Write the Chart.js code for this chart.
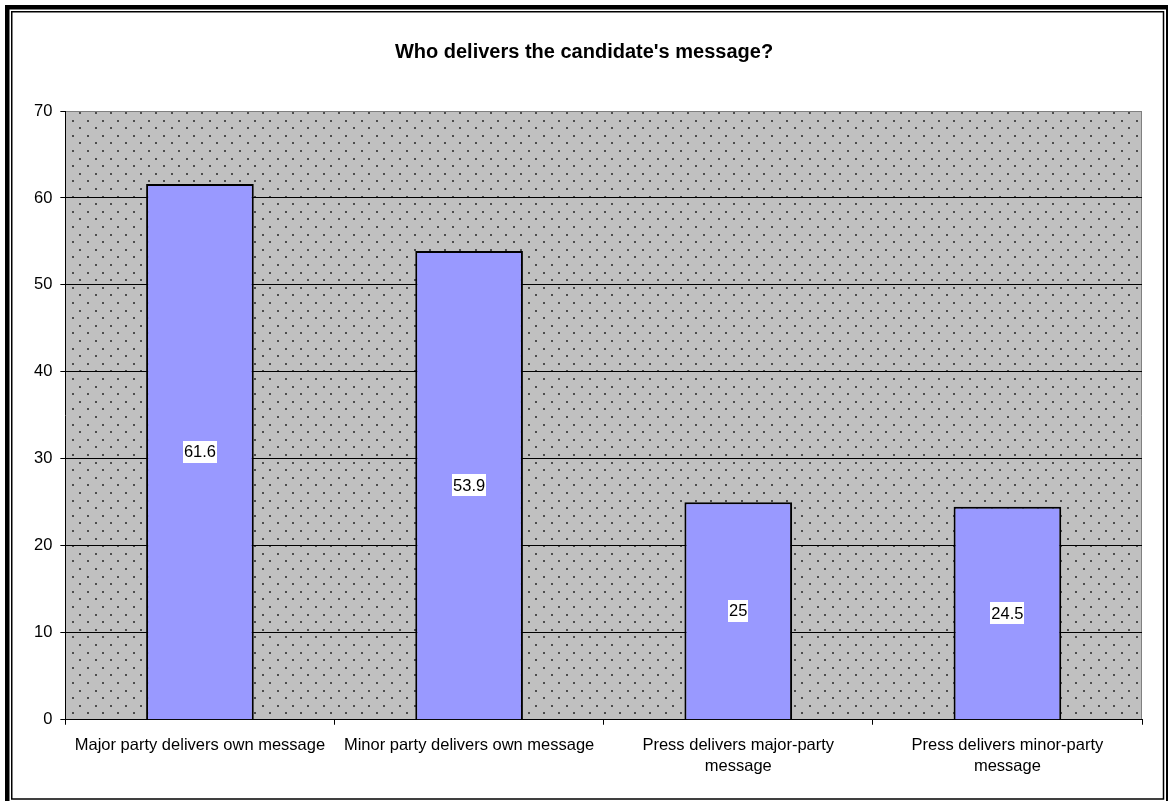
<!DOCTYPE html>
<html>
<head>
<meta charset="utf-8">
<title>Who delivers the candidate's message?</title>
<script src="https://cdn.jsdelivr.net/npm/chart.js@4.4.1/dist/chart.umd.min.js"></script>
<style>
  html, body { margin: 0; padding: 0; background: #ffffff; }
  #wrap { width: 1168px; height: 801px; position: relative; }
  canvas { display: block; }
</style>
</head>
<body>
<div id="wrap"><canvas id="c" width="1168" height="801"></canvas></div>
<script>
// Survey categories and the share (%) for each
const categories = [
  'Major party delivers own message',
  'Minor party delivers own message',
  ['Press delivers major-party', 'message'],
  ['Press delivers minor-party', 'message']
];
const shares = [61.6, 53.9, 25, 24.5];

// Value axis range and step
const yMin = 0;
const yMax = 70;
const yStep = 10;

const FONT = "'Liberation Sans', Arial, sans-serif";

// Grey dotted plot background plus the grey top/right plot border
const plotBackground = {
  id: 'plotBackground',
  beforeDraw(chart) {
    const { ctx, chartArea: a } = chart;
    ctx.save();
    ctx.fillStyle = '#ffffff';
    ctx.fillRect(0, 0, chart.width, chart.height);
    ctx.fillStyle = '#c0c0c0';
    ctx.fillRect(a.left, a.top, a.right - a.left, a.bottom - a.top);
    // staggered dot texture
    ctx.fillStyle = '#4d4d4d';
    const dx = 15.2, dy = 7.6;
    let row = 0;
    for (let y = a.top + 1; y < a.bottom - 1; y += dy, row++) {
      const start = a.left + (row % 2 === 0 ? 14 : 6.4);
      for (let x = start; x < a.right - 1; x += dx) {
        ctx.fillRect(Math.round(x), Math.round(y), 2, 2);
      }
    }
    ctx.strokeStyle = '#808080';
    ctx.lineWidth = 1;
    ctx.beginPath();
    ctx.moveTo(a.left, a.top + 0.5);
    ctx.lineTo(a.right - 0.5, a.top + 0.5);
    ctx.lineTo(a.right - 0.5, a.bottom);
    ctx.stroke();
    ctx.restore();
  }
};

// Value labels centred inside each bar on a white box
const valueLabels = {
  id: 'valueLabels',
  afterDatasetsDraw(chart) {
    const { ctx } = chart;
    const meta = chart.getDatasetMeta(0);
    ctx.save();
    ctx.font = '16.5px ' + FONT;
    ctx.textAlign = 'center';
    ctx.textBaseline = 'middle';
    meta.data.forEach((bar, i) => {
      const text = String(chart.data.datasets[0].data[i]);
      const cx = bar.x;
      const cy = (bar.y + bar.base) / 2;
      const w = ctx.measureText(text).width + 2;
      const h = 22;
      ctx.fillStyle = '#ffffff';
      ctx.fillRect(Math.round(cx - w / 2), Math.round(cy - h / 2), Math.round(w), h);
      ctx.fillStyle = '#000000';
      ctx.fillText(text, cx, cy + 1);
    });
    ctx.restore();
  }
};

// Double-line frame around the whole chart
const outerFrame = {
  id: 'outerFrame',
  afterDraw(chart) {
    const { ctx } = chart;
    ctx.save();
    ctx.strokeStyle = '#000000';
    ctx.lineWidth = 4.5;
    ctx.strokeRect(7.25, 7.25, 1161, 796.5);
    ctx.lineWidth = 1.5;
    ctx.strokeRect(11.75, 11.75, 1151.75, 787.25);
    ctx.restore();
  }
};

new Chart(document.getElementById('c'), {
  type: 'bar',
  data: {
    labels: categories,
    datasets: [{
      data: shares,
      backgroundColor: '#9999ff',
      borderColor: '#000000',
      borderWidth: 2,
      barPercentage: 0.4,
      categoryPercentage: 1.0
    }]
  },
  options: {
    responsive: false,
    animation: false,
    devicePixelRatio: 1,
    layout: { padding: { top: 40, left: 26, right: 26, bottom: 14 } },
    plugins: {
      legend: { display: false },
      tooltip: { enabled: false },
      title: {
        display: true,
        text: "Who delivers the candidate's message?",
        color: '#000000',
        font: { family: FONT, size: 20, weight: 'bold' },
        padding: { top: 0, bottom: 47 }
      }
    },
    scales: {
      x: {
        offset: true,
        grid: {
          display: true,
          offset: true,
          drawOnChartArea: false,
          drawTicks: true,
          tickLength: 5,
          color: '#000000',
          lineWidth: 1
        },
        border: { display: true, color: '#000000', width: 1 },
        ticks: {
          color: '#000000',
          padding: 10,
          maxRotation: 0,
          autoSkip: false,
          font: { family: FONT, size: 16.5, lineHeight: 1.28 }
        }
      },
      y: {
        min: yMin,
        max: yMax,
        grid: {
          drawTicks: true,
          tickLength: 5,
          color: (c) => (c.tick && c.tick.value === yMax ? '#808080' : '#000000'),
          tickColor: '#000000',
          lineWidth: 1
        },
        border: { display: true, color: '#000000', width: 1 },
        ticks: {
          stepSize: yStep,
          color: '#000000',
          padding: 8,
          font: { family: FONT, size: 16.5 }
        }
      }
    }
  },
  plugins: [plotBackground, valueLabels, outerFrame]
});
</script>
</body>
</html>
